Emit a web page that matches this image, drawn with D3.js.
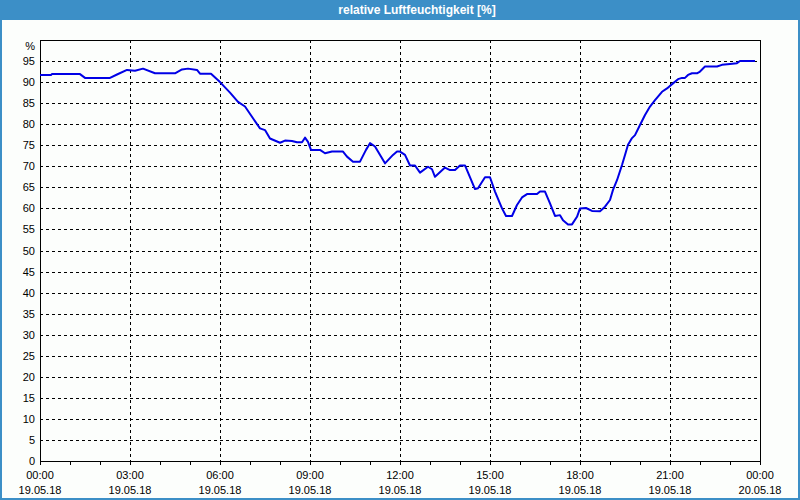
<!DOCTYPE html>
<html>
<head>
<meta charset="utf-8">
<script src="https://cdn.jsdelivr.net/npm/d3@7"></script>
<style>
    body { margin: 0; background: #fcfefc; }
    svg { display: block; font-family: "Liberation Sans", Arial, sans-serif; }
    .axis text { font-size: 11px; fill: #000; }
    .grid line { stroke: #000; stroke-dasharray: 3,3; shape-rendering: crispEdges; }
</style>
</head>
<body>
<svg id="chart"></svg>
<script>

// minutes after 19.05.18 00:00
const sampleMinutes = [0, 22, 24, 80, 90, 140, 154, 174, 190, 206, 230, 270, 284, 296, 314, 320, 342,
    360, 380, 396, 410, 426, 440, 450, 460, 480, 490, 504, 514, 524, 530, 536, 542, 560, 570, 584,
    606, 614, 626, 640, 652, 660, 670, 690, 706, 714, 720, 730, 740, 750, 760, 776, 784, 790, 810,
    820, 830, 840, 850, 870, 876, 890, 900, 910, 924, 932, 944, 954, 964, 974, 994, 1000, 1010,
    1020, 1030, 1040, 1046, 1056, 1064, 1074, 1080, 1092, 1104, 1120, 1130, 1140, 1146, 1154, 1164,
    1170, 1176, 1184, 1190, 1200, 1210, 1220, 1230, 1244, 1254, 1266, 1276, 1284, 1290, 1296, 1304,
    1314, 1320, 1330, 1354, 1364, 1380, 1394, 1400, 1430];

const humidity = [91.7, 91.7, 91.9, 91.9, 91.0, 91.0, 91.8, 92.9, 92.7, 93.2, 92.1, 92.1, 93.0, 93.2, 92.9, 92.0, 92.0,
    90.0, 87.5, 85.3, 84.2, 81.4, 79.0, 78.6, 76.6, 75.6, 76.1, 76.0, 75.7, 75.7, 76.8, 75.8, 73.9, 73.9, 73.1, 73.5,
    73.5, 72.3, 71.1, 71.1, 73.9, 75.5, 74.7, 70.7, 72.7, 73.5, 73.5, 72.7, 70.2, 70.2, 68.5, 69.9, 69.3, 67.5, 69.7,
    69.1, 69.1, 70.2, 70.2, 64.6, 64.8, 67.4, 67.4, 64.0, 60.0, 58.2, 58.2, 60.8, 62.6, 63.4, 63.4, 64.0, 64.0,
    61.2, 58.2, 58.4, 57.2, 56.2, 56.2, 58.0, 60.0, 60.1, 59.4, 59.3, 60.4, 62.0, 64.4, 66.7, 70.3,
    72.7, 75.1, 76.7, 77.4, 79.8, 82.2, 84.2, 85.7, 87.7, 88.5, 89.7, 90.7, 91.0, 91.0, 91.7, 92.1,
    92.1, 92.5, 93.7, 93.7, 94.1, 94.3, 94.5, 95.0, 95.0];

const yTickValues = [0, 5, 10, 15, 20, 25, 30, 35, 40, 45, 50, 55, 60, 65, 70, 75, 80, 85, 90, 95];
const xTickHours = [0, 3, 6, 9, 12, 15, 18, 21, 24];
const xTickTimes = ['00:00', '03:00', '06:00', '09:00', '12:00', '15:00', '18:00', '21:00', '00:00'];
const xTickDates = ['19.05.18', '19.05.18', '19.05.18', '19.05.18', '19.05.18', '19.05.18', '19.05.18', '19.05.18', '20.05.18'];

const chartTitle = 'relative Luftfeuchtigkeit [%]';

class HumidityChart {
    constructor(config_, data_) {
        this.config = {
            svgElement: config_.svgElement,
            width: config_.width,
            height: config_.height,
            margin: config_.margin,
        };
        this.data = data_;
        this.initVis();
    }

    initVis() {
        const vis = this;

        vis.width = vis.config.width - vis.config.margin.left - vis.config.margin.right;
        vis.height = vis.config.height - vis.config.margin.top - vis.config.margin.bottom;

        vis.start = new Date(2018, 4, 19, 0, 0);
        vis.end = new Date(2018, 4, 20, 0, 0);

        vis.xScale = d3.scaleTime()
            .domain([vis.start, vis.end])
            .range([0, vis.width]);

        vis.yScale = d3.scaleLinear()
            .domain([0, 100])
            .range([vis.height, 0]);

        vis.svg = d3.select(vis.config.svgElement)
            .attr('width', vis.config.width)
            .attr('height', vis.config.height);

        // window background, frame and title bar
        vis.svg.append('rect')
            .attr('width', vis.config.width)
            .attr('height', vis.config.height)
            .attr('fill', '#fcfefc');

        vis.svg.append('rect')
            .attr('x', 1).attr('y', 1)
            .attr('width', vis.config.width - 2)
            .attr('height', vis.config.height - 2)
            .attr('fill', 'none')
            .attr('stroke', '#3c8fc7')
            .attr('stroke-width', 2);

        vis.svg.append('rect')
            .attr('width', vis.config.width)
            .attr('height', 20)
            .attr('fill', '#3c8fc7');

        vis.svg.append('text')
            .attr('x', 417)
            .attr('y', 14)
            .attr('text-anchor', 'middle')
            .attr('fill', '#fff')
            .attr('font-size', 12)
            .attr('font-weight', 'bold')
            .text(chartTitle);

        vis.chart = vis.svg.append('g')
            .attr('transform', `translate(${vis.config.margin.left},${vis.config.margin.top})`);

        vis.updateVis();
    }

    updateVis() {
        const vis = this;

        vis.points = vis.data.minutes.map((m, i) => ({
            date: d3.timeMinute.offset(vis.start, m),
            value: vis.data.values[i]
        }));

        vis.majorDates = xTickHours.map(h => d3.timeHour.offset(vis.start, h));
        vis.hourDates = d3.range(0, 25).map(h => d3.timeHour.offset(vis.start, h));

        vis.line = d3.line()
            .x(d => vis.xScale(d.date))
            .y(d => vis.yScale(d.value));

        vis.renderVis();
    }

    renderVis() {
        const vis = this;

        // horizontal grid
        vis.chart.append('g')
            .attr('class', 'grid')
            .selectAll('line')
            .data(yTickValues.filter(d => d > 0))
            .join('line')
            .attr('x1', 0)
            .attr('x2', vis.width)
            .attr('y1', d => Math.round(vis.yScale(d)) + 0.5)
            .attr('y2', d => Math.round(vis.yScale(d)) + 0.5);

        // vertical grid
        vis.chart.append('g')
            .attr('class', 'grid')
            .selectAll('line')
            .data(vis.majorDates.slice(1, -1))
            .join('line')
            .attr('x1', d => Math.round(vis.xScale(d)) + 0.5)
            .attr('x2', d => Math.round(vis.xScale(d)) + 0.5)
            .attr('y1', 0)
            .attr('y2', vis.height);

        // y axis labels
        vis.yAxis = d3.axisLeft(vis.yScale)
            .tickValues(yTickValues)
            .tickSize(0)
            .tickPadding(5);

        vis.chart.append('g')
            .attr('class', 'axis y-axis')
            .call(vis.yAxis)
            .call(g => g.select('.domain').remove());

        vis.chart.append('text')
            .attr('x', -5)
            .attr('y', 6)
            .attr('dy', '0.32em')
            .attr('text-anchor', 'end')
            .attr('font-size', 11)
            .text('%');

        // x axis: hourly ticks, labels every 3 hours
        vis.xAxis = d3.axisBottom(vis.xScale)
            .tickValues(vis.hourDates)
            .tickSize(4)
            .tickFormat('');

        vis.xAxisG = vis.chart.append('g')
            .attr('class', 'axis x-axis')
            .attr('transform', `translate(0,${vis.height})`)
            .call(vis.xAxis)
            .call(g => g.select('.domain').remove())
            .call(g => g.selectAll('.tick line').attr('stroke', '#000'));

        const labels = vis.xAxisG.selectAll('.x-label')
            .data(vis.majorDates)
            .join('text')
            .attr('class', 'x-label')
            .attr('x', d => vis.xScale(d))
            .attr('text-anchor', 'middle');

        labels.append('tspan')
            .attr('x', d => vis.xScale(d))
            .attr('y', 18)
            .text((d, i) => xTickTimes[i]);

        labels.append('tspan')
            .attr('x', d => vis.xScale(d))
            .attr('y', 33)
            .text((d, i) => xTickDates[i]);

        // plot frame
        vis.chart.append('rect')
            .attr('x', 0.5)
            .attr('y', 0.5)
            .attr('width', vis.width)
            .attr('height', vis.height)
            .attr('fill', 'none')
            .attr('stroke', '#000')
            .attr('shape-rendering', 'crispEdges');

        vis.chart.append('path')
            .datum(vis.points)
            .attr('fill', 'none')
            .attr('stroke', '#0000e6')
            .attr('stroke-width', 2)
            .attr('stroke-linejoin', 'round')
            .attr('d', vis.line);
    }
}

const humidityChart = new HumidityChart({
    svgElement: '#chart',
    width: 800,
    height: 500,
    margin: { top: 40, right: 40, bottom: 39, left: 40 }
}, { minutes: sampleMinutes, values: humidity });

</script>
</body>
</html>
